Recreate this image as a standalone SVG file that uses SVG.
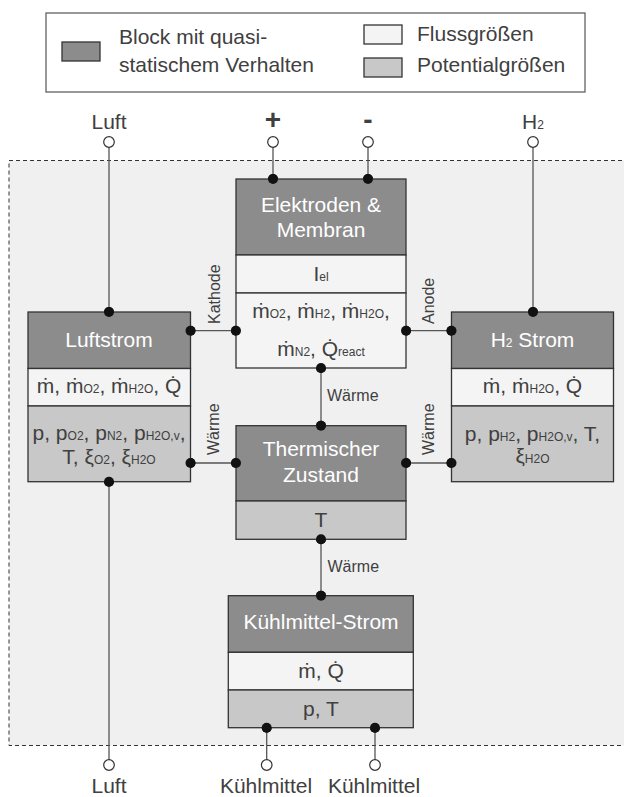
<svg xmlns="http://www.w3.org/2000/svg" width="624" height="797" viewBox="0 0 624 797">
  <defs>
    <style>
      text { font-family: "Liberation Sans", Arial, sans-serif; }
      .frame { fill: #f0f0f0; stroke: #333; stroke-width: 1; stroke-dasharray: 4 3; }
      .box { stroke: #333; stroke-width: 1.3; }
      .blk { fill: #8c8c8c; }
      .flow { fill: #f4f4f4; }
      .pot { fill: #c8c8c8; }
      .title { fill: #fff; font-size: 21px; text-anchor: middle; }
      .val { fill: #404040; font-size: 21px; text-anchor: middle; }
      .sub { font-size: 12px; }
      .lbl { fill: #404040; font-size: 16px; }
      .ext { fill: #404040; font-size: 21px; text-anchor: middle; }
      .wire { stroke: #555; stroke-width: 1.3; fill: none; }
      .dot { fill: #111; }
      .term { fill: #fff; stroke: #333; stroke-width: 1.2; }
    </style>
  </defs>

  <rect width="624" height="797" fill="#fff"/>

  <!-- legend -->
  <g id="legend">
    <rect x="46" y="13" width="539" height="79" fill="#fff" stroke="#555" stroke-width="1.2"/>
    <rect class="box blk" x="62" y="42" width="38" height="19"/>
    <text class="lbl" x="119" y="44" style="font-size:21px">Block mit quasi-</text>
    <text class="lbl" x="119" y="72" style="font-size:21px">statischem Verhalten</text>
    <rect class="box flow" x="364" y="25" width="38" height="19"/>
    <text class="lbl" x="417" y="41" style="font-size:21px">Flussgrößen</text>
    <rect class="box pot" x="364" y="58" width="38" height="19"/>
    <text class="lbl" x="417" y="72" style="font-size:21px">Potentialgrößen</text>
  </g>

  <!-- system boundary -->
  <rect id="boundary" class="frame" x="9" y="160.5" width="640" height="585"/>

  <!-- connectors -->
  <g id="connectors">
    <line class="wire" x1="109" y1="147" x2="109" y2="312"/>
    <line class="wire" x1="273" y1="147" x2="273" y2="179"/>
    <line class="wire" x1="368" y1="147" x2="368" y2="179"/>
    <line class="wire" x1="533" y1="147" x2="533" y2="312"/>
    <line class="wire" x1="190.5" y1="330.7" x2="236" y2="330.7"/>
    <line class="wire" x1="406" y1="330.7" x2="451.5" y2="330.7"/>
    <line class="wire" x1="190.5" y1="463" x2="236" y2="463"/>
    <line class="wire" x1="406" y1="463" x2="451.5" y2="463"/>
    <line class="wire" x1="321" y1="368" x2="321" y2="425.7"/>
    <line class="wire" x1="321" y1="539.3" x2="321" y2="595.7"/>
    <line class="wire" x1="109" y1="481.7" x2="109" y2="760"/>
    <line class="wire" x1="266.7" y1="727.7" x2="266.7" y2="760"/>
    <line class="wire" x1="375" y1="727.7" x2="375" y2="760"/>

    <text class="lbl" transform="translate(220 324) rotate(-90)">Kathode</text>
    <text class="lbl" transform="translate(219 455) rotate(-90)">Wärme</text>
    <text class="lbl" transform="translate(433.5 324) rotate(-90)">Anode</text>
    <text class="lbl" transform="translate(433.5 455) rotate(-90)">Wärme</text>
    <text class="lbl" x="327" y="400.7">Wärme</text>
    <text class="lbl" x="327.5" y="571.7">Wärme</text>

    <circle class="dot" cx="109" cy="312" r="5"/>
    <circle class="dot" cx="273" cy="179" r="5"/>
    <circle class="dot" cx="368" cy="179" r="5"/>
    <circle class="dot" cx="533" cy="312" r="5"/>
    <circle class="dot" cx="190.5" cy="330.7" r="5"/>
    <circle class="dot" cx="236" cy="330.7" r="5"/>
    <circle class="dot" cx="406" cy="330.7" r="5"/>
    <circle class="dot" cx="451.5" cy="330.7" r="5"/>
    <circle class="dot" cx="190.5" cy="463" r="5"/>
    <circle class="dot" cx="236" cy="463" r="5"/>
    <circle class="dot" cx="406" cy="463" r="5"/>
    <circle class="dot" cx="451.5" cy="463" r="5"/>
    <circle class="dot" cx="321" cy="368" r="5"/>
    <circle class="dot" cx="321" cy="425.7" r="5"/>
    <circle class="dot" cx="321" cy="539.3" r="5"/>
    <circle class="dot" cx="321" cy="595.7" r="5"/>
    <circle class="dot" cx="109" cy="481.7" r="5"/>
    <circle class="dot" cx="266.7" cy="727.7" r="5"/>
    <circle class="dot" cx="375" cy="727.7" r="5"/>
  </g>

  <!-- external terminals -->
  <g id="terminals">
    <circle class="term" cx="109" cy="142" r="5.3"/>
    <circle class="term" cx="273" cy="142" r="5.3"/>
    <circle class="term" cx="368" cy="142" r="5.3"/>
    <circle class="term" cx="533" cy="142" r="5.3"/>
    <circle class="term" cx="109" cy="765" r="5.3"/>
    <circle class="term" cx="266.7" cy="765" r="5.3"/>
    <circle class="term" cx="375" cy="765" r="5.3"/>
    <text class="ext" x="109" y="129">Luft</text>
    <text class="ext" x="273" y="129" style="font-size:28px;font-weight:bold">+</text>
    <text class="ext" x="368" y="129" style="font-size:28px;font-weight:bold">-</text>
    <text class="ext" x="533" y="129">H<tspan class="sub">2</tspan></text>
    <text class="ext" x="109" y="793">Luft</text>
    <text class="ext" x="266" y="793">Kühlmittel</text>
    <text class="ext" x="374" y="793">Kühlmittel</text>
  </g>

  <!-- electrodes and membrane -->
  <g id="elektroden">
    <rect class="box blk" x="236" y="179" width="170" height="76"/>
    <rect class="box flow" x="236" y="255" width="170" height="38"/>
    <rect class="box flow" x="236" y="293" width="170" height="75"/>
    <text class="title" x="321" y="211.7">Elektroden &amp;</text>
    <text class="title" x="321" y="236.7">Membran</text>
    <text class="val" x="321" y="280.7">I<tspan class="sub">el</tspan></text>
    <text class="val" x="321" y="318.3">ṁ<tspan class="sub">O2</tspan>, ṁ<tspan class="sub">H2</tspan>, ṁ<tspan class="sub">H2O</tspan>,</text>
    <text class="val" x="321" y="356">ṁ<tspan class="sub">N2</tspan>, Q̇<tspan class="sub">react</tspan></text>
  </g>

  <!-- air flow -->
  <g id="luftstrom">
    <rect class="box blk" x="28" y="312" width="162.5" height="56.5"/>
    <rect class="box flow" x="28" y="368.5" width="162.5" height="37.5"/>
    <rect class="box pot" x="28" y="406" width="162.5" height="75.7"/>
    <text class="title" x="109" y="346.7">Luftstrom</text>
    <text class="val" x="109" y="392.7">ṁ, ṁ<tspan class="sub">O2</tspan>, ṁ<tspan class="sub">H2O</tspan>, Q̇</text>
    <text class="val" x="109" y="440">p, p<tspan class="sub">O2</tspan>, p<tspan class="sub">N2</tspan>, p<tspan class="sub">H2O,v</tspan>,</text>
    <text class="val" x="109" y="464">T, ξ<tspan class="sub">O2</tspan>, ξ<tspan class="sub">H2O</tspan></text>
  </g>

  <!-- hydrogen flow -->
  <g id="h2strom">
    <rect class="box blk" x="451.5" y="312" width="162" height="56.5"/>
    <rect class="box flow" x="451.5" y="368.5" width="162" height="37.5"/>
    <rect class="box pot" x="451.5" y="406" width="162" height="75.7"/>
    <text class="title" x="532.5" y="346.7">H<tspan class="sub">2</tspan> Strom</text>
    <text class="val" x="532.5" y="393">ṁ, ṁ<tspan class="sub">H2O</tspan>, Q̇</text>
    <text class="val" x="532.5" y="441">p, p<tspan class="sub">H2</tspan>, p<tspan class="sub">H2O,v</tspan>, T,</text>
    <text class="val" x="532.5" y="463">ξ<tspan class="sub">H2O</tspan></text>
  </g>

  <!-- thermal state -->
  <g id="thermisch">
    <rect class="box blk" x="236" y="425.7" width="170" height="75.3"/>
    <rect class="box pot" x="236" y="501" width="170" height="38.3"/>
    <text class="title" x="321" y="456">Thermischer</text>
    <text class="title" x="321" y="481.7">Zustand</text>
    <text class="val" x="321" y="527">T</text>
  </g>

  <!-- coolant flow -->
  <g id="kuehlmittel">
    <rect class="box blk" x="228.3" y="595.7" width="185" height="56.6"/>
    <rect class="box flow" x="228.3" y="652.3" width="185" height="37.7"/>
    <rect class="box pot" x="228.3" y="690" width="185" height="37.7"/>
    <text class="title" x="321" y="629.3">Kühlmittel-Strom</text>
    <text class="val" x="321" y="678">ṁ, Q̇</text>
    <text class="val" x="321" y="716">p, T</text>
  </g>

  <!-- dots drawn above the block faces -->
  <g id="portdots">
    <circle class="dot" cx="109" cy="312" r="5"/>
    <circle class="dot" cx="273" cy="179" r="5"/>
    <circle class="dot" cx="368" cy="179" r="5"/>
    <circle class="dot" cx="533" cy="312" r="5"/>
    <circle class="dot" cx="190.5" cy="330.7" r="5"/>
    <circle class="dot" cx="236" cy="330.7" r="5"/>
    <circle class="dot" cx="406" cy="330.7" r="5"/>
    <circle class="dot" cx="451.5" cy="330.7" r="5"/>
    <circle class="dot" cx="190.5" cy="463" r="5"/>
    <circle class="dot" cx="236" cy="463" r="5"/>
    <circle class="dot" cx="406" cy="463" r="5"/>
    <circle class="dot" cx="451.5" cy="463" r="5"/>
    <circle class="dot" cx="321" cy="368" r="5"/>
    <circle class="dot" cx="321" cy="425.7" r="5"/>
    <circle class="dot" cx="321" cy="539.3" r="5"/>
    <circle class="dot" cx="321" cy="595.7" r="5"/>
    <circle class="dot" cx="109" cy="481.7" r="5"/>
    <circle class="dot" cx="266.7" cy="727.7" r="5"/>
    <circle class="dot" cx="375" cy="727.7" r="5"/>
  </g>
</svg>
